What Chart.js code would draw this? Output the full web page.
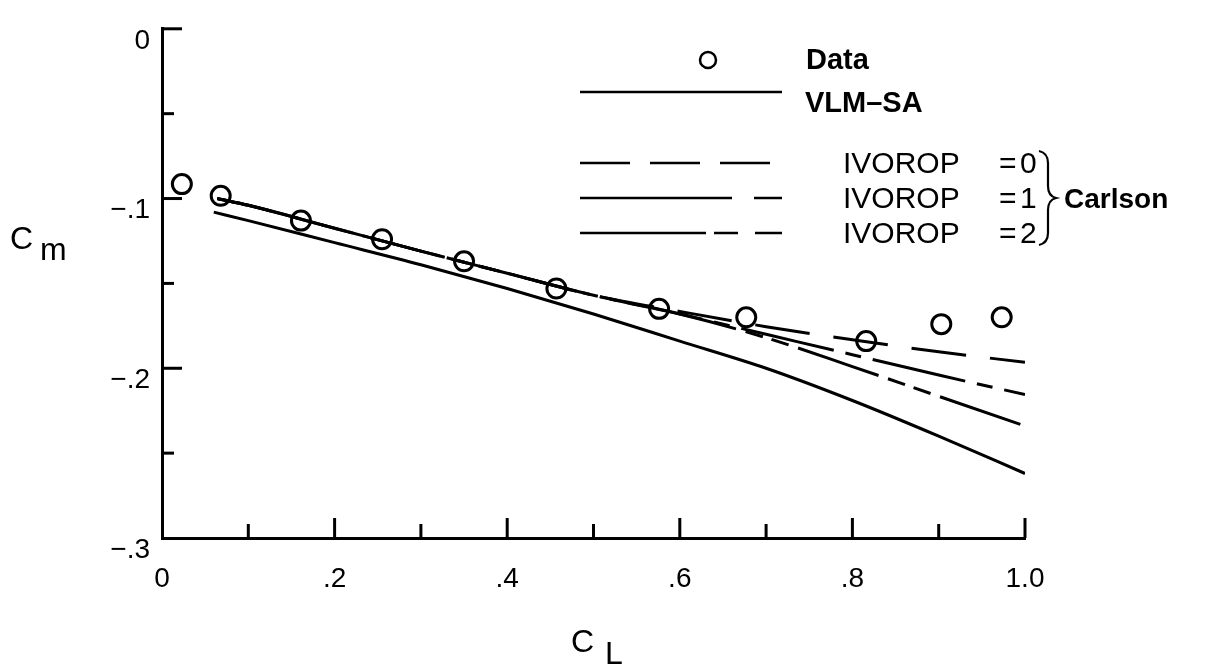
<!DOCTYPE html>
<html>
<head>
<meta charset="utf-8">
<script src="https://cdn.jsdelivr.net/npm/chart.js@4.4.0/dist/chart.umd.min.js"></script>
<style>
  html, body { margin: 0; padding: 0; background: #fff; }
  #wrap { width: 1209px; height: 669px; }
</style>
</head>
<body>
<div id="wrap"><canvas id="c" width="1209" height="669"></canvas></div>
<script>
// Measured pitching moment vs lift coefficient
const dataCL = [0.023, 0.068, 0.161, 0.255, 0.350, 0.457, 0.576, 0.677, 0.816, 0.903, 0.973];
const dataCm = [-0.0915, -0.0984, -0.113, -0.124, -0.137, -0.153, -0.165, -0.170, -0.184, -0.174, -0.170];

// VLM-SA prediction
const vlmCL = [0.06, 0.1, 0.2, 0.3, 0.4, 0.5, 0.6, 0.7, 0.8, 0.9, 1.0];
const vlmCm = [-0.108, -0.113, -0.126, -0.139, -0.153, -0.168, -0.184, -0.200, -0.219, -0.240, -0.262];

// Carlson method, three IVOROP options
const carlsonCL = [0.064, 0.1, 0.2, 0.3, 0.4, 0.5, 0.6, 0.7, 0.8, 0.9, 1.0];
const ivorop0Cm = [-0.100, -0.104, -0.1175, -0.131, -0.144, -0.157, -0.1665, -0.1755, -0.1832, -0.1903, -0.1965];
const ivorop1Cm = [-0.100, -0.104, -0.1175, -0.131, -0.144, -0.157, -0.168, -0.180, -0.192, -0.204, -0.2155];
const ivorop2Cm = [-0.100, -0.104, -0.1175, -0.131, -0.144, -0.157, -0.168, -0.182, -0.199, -0.2165, -0.234];

// Axis tick labels
const xTickValues = [0, 0.2, 0.4, 0.6, 0.8, 1.0];
const xTickText = ['0', '.2', '.4', '.6', '.8', '1.0'];
const yTickValues = [0, -0.1, -0.2, -0.3];
const yTickText = ['0', '\u2212.1', '\u2212.2', '\u2212.3'];

const FONT = '"Liberation Sans", Arial, Helvetica, sans-serif';

const pts = (xs, ys) => xs.map((x, i) => ({ x: x, y: ys[i] }));
const labelFor = (vals, texts, v) => {
  const i = vals.findIndex(t => Math.abs(t - v) < 1e-6);
  return i >= 0 ? texts[i] : '';
};

// White page background
const bgPlugin = {
  id: 'bg',
  beforeDraw(chart) {
    const ctx = chart.ctx;
    ctx.save();
    ctx.fillStyle = '#fff';
    ctx.fillRect(0, 0, chart.width, chart.height);
    ctx.restore();
  }
};

// Inward tick marks on both axes
const innerTicks = {
  id: 'innerTicks',
  afterDraw(chart) {
    const { ctx, scales: { x, y }, chartArea: a } = chart;
    ctx.save();
    ctx.strokeStyle = '#000';
    ctx.lineWidth = 3;
    ctx.lineCap = 'butt';
    for (let k = 1; k <= 10; k++) {
      const px = x.getPixelForValue(k / 10);
      const len = k % 2 === 0 ? 20 : 14;
      ctx.beginPath();
      ctx.moveTo(px, a.bottom);
      ctx.lineTo(px, a.bottom - len);
      ctx.stroke();
    }
    for (let k = 0; k < 6; k++) {
      const py = y.getPixelForValue(-k * 0.05);
      const len = k % 2 === 0 ? 20 : 12;
      ctx.beginPath();
      ctx.moveTo(a.left, py);
      ctx.lineTo(a.left + len, py);
      ctx.stroke();
    }
    ctx.restore();
  }
};

// Axis titles with subscripts, and the key
const annotations = {
  id: 'annotations',
  afterDraw(chart) {
    const ctx = chart.ctx;
    ctx.save();
    ctx.fillStyle = '#000';
    ctx.strokeStyle = '#000';
    ctx.textBaseline = 'alphabetic';
    ctx.textAlign = 'left';

    // C_m
    ctx.font = '32px ' + FONT;
    ctx.fillText('C', 10, 249);
    ctx.fillText('m', 40, 260);
    // C_L
    ctx.fillText('C', 571, 652);
    ctx.fillText('L', 605, 664);

    // key: data symbol
    ctx.lineWidth = 2.5;
    ctx.beginPath();
    ctx.arc(708, 60, 8, 0, Math.PI * 2);
    ctx.stroke();
    ctx.font = 'bold 29px ' + FONT;
    ctx.textBaseline = 'middle';
    ctx.fillText('Data', 806, 61);

    const sample = (yy, dash) => {
      ctx.lineWidth = 2.5;
      ctx.setLineDash(dash);
      ctx.beginPath();
      ctx.moveTo(580, yy);
      ctx.lineTo(782, yy);
      ctx.stroke();
      ctx.setLineDash([]);
    };
    sample(92, []);
    ctx.fillText('VLM\u2013SA', 805, 104);

    sample(163, [50, 20]);
    sample(198, [152, 22, 28, 0]);
    sample(233, [126, 8, 24, 17, 26, 0]);

    ctx.font = '30px ' + FONT;
    const rows = [165, 200, 235];
    ['0', '1', '2'].forEach((d, i) => {
      ctx.fillText('IVOROP', 843, rows[i]);
      ctx.fillText('=', 999, rows[i]);
      ctx.fillText(d, 1020, rows[i]);
    });

    // brace grouping the Carlson rows
    ctx.lineWidth = 2.2;
    ctx.beginPath();
    ctx.moveTo(1039, 151);
    ctx.quadraticCurveTo(1048, 153, 1048, 163);
    ctx.lineTo(1048, 186);
    ctx.quadraticCurveTo(1048, 196, 1056, 198);
    ctx.quadraticCurveTo(1048, 200, 1048, 210);
    ctx.lineTo(1048, 233);
    ctx.quadraticCurveTo(1048, 243, 1039, 245);
    ctx.stroke();

    ctx.font = 'bold 28px ' + FONT;
    ctx.fillText('Carlson', 1064, 200);
    ctx.restore();
  }
};

const lineBase = {
  showLine: true,
  pointRadius: 0,
  borderColor: '#000',
  borderWidth: 3,
  fill: false,
  cubicInterpolationMode: 'monotone'
};

new Chart(document.getElementById('c'), {
  type: 'scatter',
  data: {
    datasets: [
      Object.assign({}, lineBase, { label: 'VLM-SA', data: pts(vlmCL, vlmCm) }),
      Object.assign({}, lineBase, { label: 'IVOROP = 0', data: pts(carlsonCL, ivorop0Cm), borderDash: [55, 24] }),
      Object.assign({}, lineBase, { label: 'IVOROP = 1', data: pts(carlsonCL, ivorop1Cm), borderDash: [95, 12, 16, 12] }),
      Object.assign({}, lineBase, { label: 'IVOROP = 2', data: pts(carlsonCL, ivorop2Cm), borderDash: [85, 10, 18, 9, 18, 10] }),
      {
        label: 'Data',
        data: pts(dataCL, dataCm),
        showLine: false,
        pointStyle: 'circle',
        pointRadius: 9.5,
        pointBorderWidth: 3,
        pointBorderColor: '#000',
        pointBackgroundColor: 'rgba(0,0,0,0)'
      }
    ]
  },
  options: {
    responsive: false,
    animation: false,
    layout: { padding: { left: 0, top: 20, right: 184, bottom: 0 } },
    plugins: { legend: { display: false }, tooltip: { enabled: false } },
    scales: {
      x: {
        type: 'linear',
        min: 0,
        max: 1,
        afterFit(s) { s.height = 131; },
        afterBuildTicks(s) { s.ticks = xTickValues.map(v => ({ value: v })); },
        grid: { display: false, drawTicks: false },
        border: { display: true, color: '#000', width: 3 },
        ticks: {
          autoSkip: false,
          maxRotation: 0,
          padding: 24,
          color: '#000',
          font: { family: FONT, size: 28 },
          callback: v => labelFor(xTickValues, xTickText, v)
        }
      },
      y: {
        type: 'linear',
        min: -0.3,
        max: 0,
        afterFit(s) { s.width = 162; },
        afterBuildTicks(s) { s.ticks = yTickValues.map(v => ({ value: v })); },
        grid: { display: false, drawTicks: false },
        border: { display: true, color: '#000', width: 3 },
        ticks: {
          autoSkip: false,
          padding: 12,
          labelOffset: 12,
          color: '#000',
          font: { family: FONT, size: 28 },
          callback: v => labelFor(yTickValues, yTickText, v)
        }
      }
    }
  },
  plugins: [bgPlugin, innerTicks, annotations]
});
</script>
</body>
</html>
